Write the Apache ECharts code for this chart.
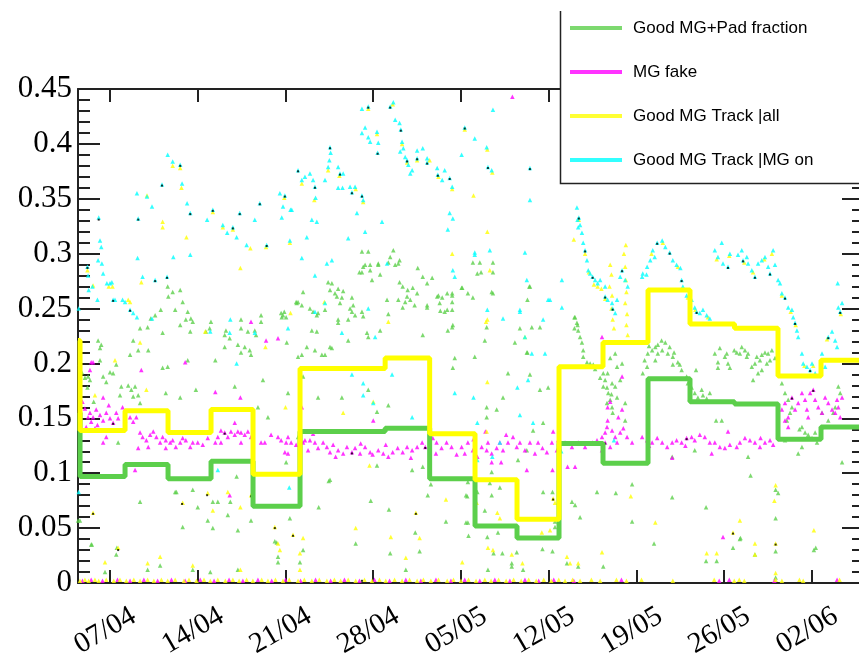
<!DOCTYPE html>
<html><head><meta charset="utf-8">
<script src="https://cdn.jsdelivr.net/npm/echarts@6/dist/echarts.min.js"></script>
<style>html,body{margin:0;padding:0;background:#fff}#c{width:859px;height:661px}</style>
</head><body><div id="c"></div><script>
// x values are days counted from 07/04 00:00
const weekTickDays = [0, 7, 14, 21, 28, 35, 42, 49, 56];
const weekTickLabels = ['07/04','14/04','21/04','28/04','05/05','12/05','19/05','26/05','02/06'];
const seriesNames = ['Good MG+Pad fraction','MG fake','Good MG Track |all','Good MG Track |MG on'];

// histogram (step) curves
const binEdgesDays = [-2.553,-2.39,1.2,4.63,8.06,11.41,15.16,21.95,25.5,29.12,32.47,35.82,39.33,42.92,46.27,49.82,53.29,56.72,60.15];
const padFractionHist = [0.155,0.097,0.108,0.095,0.111,0.070,0.138,0.141,0.095,0.052,0.041,0.127,0.109,0.186,0.165,0.163,0.131,0.142];
const trackAllHist = [0.221,0.139,0.157,0.137,0.158,0.099,0.1955,0.205,0.136,0.094,0.058,0.197,0.219,0.267,0.236,0.232,0.1885,0.203];

// scattered points [day, value]
const padFractionPts = [
[4.6,0.27],[5.0,0.265],[5.6,0.267],[4.65,0.261],[5.8,0.256],[5.2,0.249],[6.2,0.247],[6.05,0.24],[6.45,0.241],[6.6,0.238],[5.6,0.235],[6.4,0.229],[8.05,0.238],[7.95,0.232],[7.65,0.229],[9.15,0.226],[9.25,0.23],[9.55,0.223],[10.45,0.24],[10.45,0.232],[11.0,0.229],[11.55,0.23],[11.65,0.226],[12.05,0.244],[12.05,0.238],[9.15,0.215],[10.2,0.217],[10.75,0.215],[10.45,0.21],[11.15,0.212],[13.8,0.244],[14.05,0.242],[13.65,0.246],[15.0,0.256],[11.25,0.208],
[2.4,0.232],[3.0,0.233],[3.25,0.241],[3.6,0.244],[4.05,0.249],[4.2,0.228],[2.25,0.212],[3.05,0.212],[1.6,0.208],[1.85,0.221],[0.5,0.199],[0,0.192],[0.25,0.191],[-0.55,0.188],[-0.3,0.183],[-1.75,0.188],[-1.6,0.185],[-2.0,0.187],[-0.95,0.221],[-0.8,0.214],[-0.7,0.217],[0.9,0.179],[1.45,0.18],[1.7,0.176],[2.0,0.179],[1.85,0.17],[2.25,0.171],[0.8,0.171],[0.65,0.128],[2.4,0.164],[-0.8,0.203],[4.2,0.196],[4.6,0.197],[4.45,0.173],[5.6,0.169],[6.85,0.176],[6.2,0.203],[8.4,0.203],[12.2,0.185],[11.8,0.16],[12.6,0.151],[14.2,0.173],[15.4,0.188],[15.0,0.206],[14.85,0.256],[15.0,0.133],[14.05,0.11],[9.95,0.179],[-2.25,0.192],[-1.8,0.178],[-2.4,0.2],[-1.3,0.165],
[-2.55,0.057],[-1.45,0.035],[2.4,0.074],[5.8,0.051],[7.0,0.069],[7.8,0.057],[8.2,0.074],[10.2,0.048],[10.1,0.097],[5.2,0.083],[8.0,0.01],[10.2,0.012],[-0.4,0.01],[4.0,0.016],[3.0,0.012],[0.55,0.032],[13.3,0.037],
[5.3,0.083],[6.6,0.085],[8.6,0.074],[9.6,0.074],[9.4,0.062],[8.2,0.05],[11.25,0.057],[-1.5,0.035],[0.5,0.026],[6.6,0.012],[-2.4,0.057],[13.15,0.038],[13.4,0.024],[13.4,0.019],[15.15,0.019],[15.4,0.03],[14.35,0.059],[16.65,0.069],[17.45,0.093],[20.8,0.075],[22.25,0.067],[19.6,0.036],[22.35,0.027],[24.35,0.046],[24.7,0.029],[25.6,0.09],[25.35,0.08],[26.8,0.056],[28.4,0.08],[28.4,0.055],[23.6,0.012],
[28.5,0.079],[28.55,0.092],[29.3,0.083],[30.3,0.091],[31.1,0.087],[30.45,0.08],[29.9,0.066],[28.55,0.055],[28.6,0.043],[30.1,0.042],[30.95,0.046],[32.45,0.028],[31.3,0.027],[30.6,0.027],[32.05,0.018],[32.05,0.015],[32.95,0.012],[30.15,0.012],[34.55,0.083],[35.3,0.083],[34.5,0.031],[35.3,0.029],[35.5,0.051],[35.5,0.056],[37.1,0.071],[37.5,0.06],[36.45,0.018],[37.35,0.015],[38.85,0.083],[40.35,0.082],[41.65,0.09],[41.65,0.056],[39.35,0.015],[43.4,0.036],[44.85,0.078],[47.55,0.069],[47.55,0.02],[48.4,0.02],[49.7,0.032],[50.25,0.04],[51.45,0.026],[53.1,0.059],[53.1,0.029],[53.1,0.005],[53.3,0.082],[56.15,0.03],[36.85,0.074],[48.35,0.148],[46.75,0.194],[50.3,0.041],[51.1,0.098],[53.1,0.085],[56.3,0.032],[58.4,0.11],
[20.1,0.302],[20.6,0.302],[22.35,0.297],[22.75,0.29],[23.1,0.294],[21.4,0.29],[20.2,0.288],[20.75,0.29],[21.55,0.281],[20.1,0.283],[20.9,0.276],[24.55,0.287],[24.95,0.279],[25.3,0.273],[25.7,0.278],[23.1,0.274],[23.35,0.27],[23.75,0.267],[24.15,0.269],[24.5,0.264],[23.7,0.261],[23.95,0.258],[23.55,0.256],[23.0,0.258],[25.3,0.253],[26.1,0.261],[26.5,0.26],[26.9,0.264],[27.3,0.264],[26.3,0.255],[27.3,0.256],[26.7,0.247],[27.3,0.249],[26.35,0.248],[28.1,0.269],[28.55,0.264],[28.95,0.26],[28.95,0.292],[30.55,0.292],[29.3,0.282],[30.45,0.265],[30.05,0.233],[29.9,0.221],[26.95,0.23],[27.3,0.233],[24.95,0.226],[20.6,0.224],[19.0,0.221],[17.55,0.215],[17.15,0.208],[16.35,0.212],[15.7,0.215],[15.3,0.208],[16.1,0.23],[16.5,0.229],[19.0,0.24],[18.2,0.24],[18.35,0.255],[18.1,0.261],[17.95,0.264],[18.2,0.268],[18.5,0.26],[18.6,0.266],[19.3,0.26],[19.4,0.253],[19.15,0.25],[19.3,0.247],[20.1,0.247],[20.2,0.243],[15.4,0.265],[15.95,0.25],[16.2,0.247],[16.6,0.246],[16.5,0.244],[17.15,0.249],[17.4,0.274],[17.7,0.273],[17.55,0.267],[21.55,0.23],[22.2,0.245],[23.35,0.251],[24.3,0.253],[27.5,0.205],[27.35,0.196],[21.3,0.156],[22.2,0.162],[18.5,0.169],[20.6,0.176],[16.6,0.169],[30.05,0.16],[30.05,0.151],[30.85,0.158],[31.35,0.169],[31.75,0.191],[32.3,0.219],[32.7,0.232],[33.65,0.233],[33.25,0.21],[33.5,0.19],[34.3,0.176],[34.55,0.146],[34.95,0.178],[33.25,0.121],[32.55,0.112],[30.45,0.101],[33.75,0.139],[33.5,0.27],[15.3,0.253],[24.1,0.103],[24.95,0.106],[21.3,0.107],[17.55,0.094],
[22.6,0.303],[22.2,0.292],[23.0,0.291],[21.4,0.291],[20.35,0.29],[19.9,0.283],[20.75,0.285],[29.5,0.292],[29.6,0.283],[30.55,0.283],[33.45,0.27],[30.55,0.264],[33.3,0.258],[34.3,0.233],[33.3,0.21],[37.05,0.242],[37.05,0.232],[37.3,0.235],[13.9,0.247],[13.7,0.242],[14.9,0.255],[14.1,0.219],[16.9,0.208],[17.7,0.214],[18.2,0.237],[19.55,0.244],[22.1,0.258],[20.5,0.228],[25.3,0.251],[26.2,0.262],[27.3,0.262],[26.9,0.249],[27.35,0.235],[29.1,0.206],[28.05,0.269],
[37.1,0.242],[37.25,0.237],[37.35,0.23],[37.5,0.224],[37.65,0.219],[37.75,0.212],[37.75,0.206],[38.05,0.201],[38.3,0.2],[38.55,0.199],[38.85,0.197],[39.35,0.191],[39.5,0.185],[39.35,0.179],[39.65,0.178],[39.75,0.173],[39.9,0.167],[40.05,0.16],[40.1,0.155],[40.3,0.179],[40.45,0.169],[39.65,0.164],[40.45,0.197],[40.85,0.2],[40.3,0.209],[40.7,0.185],[41.1,0.164],[41.1,0.148],[39.9,0.205],[39.7,0.191],[40.05,0.182],[38.7,0.195],[39.1,0.187],[40.0,0.172],
[42.65,0.203],[42.9,0.209],[42.85,0.197],[43.25,0.212],[43.5,0.215],[43.7,0.217],[44.05,0.212],[44.3,0.219],[44.65,0.215],[44.5,0.209],[44.9,0.206],[45.3,0.201],[45.45,0.199],[42.5,0.191],[43.5,0.203],[43.7,0.209],[44.9,0.199],[45.6,0.194],[46.0,0.188],[46.1,0.182],[46.4,0.178],[46.65,0.173],[46.9,0.169],[47.3,0.171],[47.6,0.168],[47.2,0.176],[47.85,0.173],[46.25,0.168],[43.0,0.216],[44.0,0.221],[45.0,0.21],
[48.25,0.209],[48.5,0.201],[48.65,0.214],[49.05,0.206],[49.3,0.2],[49.2,0.209],[50.0,0.21],[50.25,0.209],[50.4,0.215],[50.65,0.212],[50.8,0.206],[50.9,0.209],[48.5,0.196],[49.45,0.196],[51.2,0.197],[51.45,0.2],[51.6,0.206],[51.85,0.203],[52.0,0.208],[52.25,0.21],[52.5,0.209],[52.65,0.203],[51.7,0.191],[51.3,0.185],[52.0,0.194],[52.8,0.212],[53.05,0.205],[49.8,0.212],[52.4,0.2],
[53.6,0.182],[53.85,0.173],[54.1,0.167],[54.4,0.16],[54.25,0.155],[55.2,0.142],[55.45,0.137],[56.0,0.132],[56.25,0.137],[56.4,0.128],[56.8,0.155],[56.8,0.142],[57.85,0.16],[58.25,0.173],[58.1,0.179],[57.7,0.155],[55.2,0.124],[54.9,0.118],[54.0,0.148],[53.85,0.13],[48.8,0.148],[46.65,0.121],[44.85,0.115],[50.9,0.115],[55.0,0.14],[55.7,0.135],[57.3,0.148]
];

const mgFakePts = [
[-2.0,0.159],[-1.6,0.155],[-1.35,0.151],[-1.1,0.158],[-0.8,0.153],[-0.55,0.148],[-0.3,0.155],[0,0.15],[0.25,0.146],[0.5,0.155],[0.65,0.15],[-1.5,0.147],[-1.9,0.142],[-1.0,0.144],[-1.75,0.151],[-1.2,0.141],[-0.55,0.169],[-1.6,0.194],[-1.5,0.201],[-2.4,0.158],[0.9,0.139],[1.2,0.148],[1.6,0.151],[1.85,0.147],[2.1,0.151],[-0.3,0.133],[-0.55,0.128],[-2.2,0.165],[-0.1,0.162],[1.0,0.16],
[2.4,0.137],[2.6,0.133],[2.9,0.13],[3.2,0.135],[3.45,0.138],[3.7,0.133],[4.0,0.128],[4.2,0.133],[4.45,0.13],[4.8,0.128],[5.0,0.13],[5.25,0.124],[5.6,0.128],[5.8,0.132],[6.05,0.13],[6.4,0.124],[6.6,0.128],[7.0,0.128],[7.4,0.126],[7.8,0.132],[8.4,0.128],[8.6,0.133],[8.85,0.139],[9.15,0.137],[9.4,0.133],[9.65,0.138],[9.95,0.135],[10.2,0.138],[10.45,0.137],[10.75,0.135],[11.0,0.138],[11.25,0.133],[9.95,0.146],[8.85,0.128],[10.45,0.128],[4.45,0.123],[2.25,0.123],[3.05,0.124],
[12.05,0.128],[12.35,0.128],[13.4,0.133],[13.65,0.13],[14.05,0.128],[14.2,0.133],[14.45,0.128],[14.85,0.126],[15.55,0.13],[12.85,0.135],[14.2,0.118],[13.95,0.119],
[8.4,0.174],[10.4,0.169],[12.45,0.221],[13.4,0.223],[11.25,0.238],[6.0,0.201],[2.5,0.194],[-1.35,0.201],[2.0,0.103],
[15.4,0.128],[15.95,0.13],[16.35,0.128],[16.6,0.123],[15.8,0.121],[17.0,0.128],[17.3,0.124],[17.55,0.119],[17.8,0.126],[18.2,0.121],[18.6,0.118],[18.9,0.124],[19.3,0.119],[19.55,0.123],[19.95,0.118],[20.35,0.124],[20.75,0.119],[20.95,0.117],[21.4,0.121],[21.8,0.118],[22.2,0.115],[22.55,0.119],[22.95,0.123],[23.35,0.119],[23.7,0.124],[24.1,0.121],[24.5,0.124],[24.9,0.128],[25.15,0.124],[25.75,0.132],[26.05,0.128],[26.45,0.123],[26.85,0.128],[27.25,0.124],[27.65,0.117],[28.05,0.124],[28.3,0.118],[28.55,0.128],[28.95,0.121],[29.3,0.115],[29.65,0.124],[30.05,0.121],[30.15,0.128],[30.45,0.118],[30.85,0.123],[31.1,0.128],[31.35,0.121],[31.75,0.128],[32.15,0.133],[32.45,0.124],[32.7,0.128],[33.1,0.121],[33.5,0.128],[33.9,0.118],[34.15,0.128],[34.5,0.123],[34.85,0.119],[35.25,0.128],[35.65,0.121],[16.2,0.136],[18.0,0.115],[20.0,0.127],[22.0,0.126],[24.0,0.114],[26.0,0.118],[29.0,0.131],
[15.3,0.16],[21.0,0.148],[33.25,0.103],[31.2,0.11],[35.35,0.138],[35.3,0.103],[31.6,0.135],[29.95,0.138],[30.45,0.11],[32.1,0.443],[9.55,0.08],[48.9,0.042],
[35.75,0.13],[36.3,0.128],[36.85,0.124],[37.35,0.128],[37.9,0.124],[38.5,0.128],[38.85,0.13],[39.25,0.133],[39.5,0.137],[39.65,0.142],[39.7,0.148],[40.05,0.139],[40.3,0.133],[40.45,0.128],[40.7,0.137],[40.95,0.141],[41.25,0.133],[41.65,0.128],[39.5,0.128],[39.9,0.124],[39.25,0.121],[36.5,0.106],[37.1,0.106],[40.85,0.158],[40.55,0.151],[39.7,0.16],[39.9,0.165],[39.25,0.224],[40.85,0.188],
[42.45,0.133],[42.85,0.13],[43.25,0.128],[43.65,0.132],[44.05,0.128],[44.45,0.124],[44.85,0.128],[45.2,0.13],[45.6,0.128],[46.0,0.132],[46.4,0.133],[46.65,0.13],[47.05,0.135],[47.45,0.133],[47.85,0.128],[48.25,0.128],[48.65,0.124],[49.05,0.123],[49.45,0.126],[50.25,0.128],[50.65,0.132],[51.05,0.13],[51.45,0.128],[51.85,0.124],[52.25,0.128],[52.65,0.13],[52.9,0.126],[44.85,0.114],[48.0,0.118],[49.3,0.138],[43.0,0.125],[45.9,0.125],[50.0,0.124],[51.9,0.132],
[53.6,0.158],[53.85,0.164],[54.1,0.151],[54.4,0.169],[54.65,0.158],[54.9,0.164],[55.2,0.173],[55.45,0.167],[55.6,0.158],[55.85,0.173],[56.1,0.176],[56.25,0.167],[56.5,0.16],[56.8,0.155],[57.05,0.169],[57.3,0.164],[57.6,0.158],[57.85,0.155],[58.1,0.16],[58.25,0.151],[58.0,0.167],[58.4,0.169],[54.1,0.142],[53.85,0.148],[55.7,0.151],
[-2.2,0.002],[-1.5,0.003],[-0.6,0.002],[0.6,0.003],[1.6,0.002],[2.7,0.003],[3.8,0.002],[4.9,0.003],[6.0,0.002],[7.2,0.003],[8.3,0.002],[9.5,0.003],[10.6,0.002],[11.8,0.003],[12.9,0.002],[14.0,0.003],[15.2,0.002],[16.4,0.003],[17.6,0.002],[18.7,0.003],[19.9,0.002],[21.1,0.003],[22.3,0.002],[23.6,0.003],[24.8,0.002],[26.0,0.003],[27.2,0.002],[28.3,0.003],[29.5,0.002],[30.7,0.003],[31.9,0.002],[33.1,0.003],[34.2,0.002],[35.4,0.003],[37.0,0.002],[40.8,0.003],[48.6,0.002],[49.4,0.003],[53.0,0.002],[58.0,0.003]
];

const trackAllPts = [
[2.95,0.353],[4.2,0.329],[4.2,0.324],[6.1,0.315],[10.4,0.287],[1.45,0.258],[8.2,0.338],[11.2,0.305],[-0.1,0.27],[5.0,0.38],[5.6,0.378],[9.0,0.324],[9.8,0.322],[12.45,0.306],[14.35,0.31],[13.9,0.351],[15.3,0.364],[17.4,0.376],[18.3,0.371],[19.6,0.359],[20.2,0.347],[20.6,0.432],[21.3,0.409],[22.55,0.436],[23.3,0.4],[23.7,0.383],[24.5,0.385],[25.5,0.385],[26.2,0.37],[27.3,0.359],[28.3,0.413],[30.1,0.395],[30.5,0.374],[29.0,0.353],[30.1,0.32],[27.3,0.3],[30.3,0.285],[30.1,0.24],[22.2,0.238],[17.1,0.256],[21.0,0.165],[30.0,0.238],[30.1,0.183],[33.1,0.224],[30.05,0.138],[18.6,0.155],[20.7,0.107],[2.5,0.274],[1.6,0.256],[2.4,0.219],[0.4,0.203],[7.6,0.229],[12.4,0.215],[14.4,0.246],[2.9,0.176],[14.0,0.16],[-1.2,0.171],[-1.35,0.271],[-1.8,0.285],[0.2,0.27],[5.7,0.36],[16.3,0.349],
[37.4,0.331],[37.9,0.3],[38.2,0.283],[38.9,0.27],[39.5,0.259],[39.9,0.29],[40.0,0.281],[39.85,0.27],[40.05,0.262],[40.0,0.25],[40.1,0.24],[40.2,0.232],[41.0,0.3],[41.1,0.288],[41.15,0.276],[41.2,0.265],[41.1,0.255],[41.25,0.245],[41.2,0.235],[41.3,0.226],[41.15,0.308],[43.2,0.3],[44.1,0.31],[45.3,0.288],[46.1,0.26],[46.7,0.249],[47.7,0.242],[48.4,0.295],[49.4,0.298],[50.6,0.292],[51.3,0.283],[52.2,0.295],[52.8,0.3],[53.6,0.262],[54.3,0.247],[54.7,0.235],[55.4,0.198],[56.1,0.198],[57.2,0.222],[58.3,0.245],[38.6,0.272],[39.2,0.268],[37.0,0.313],
[7.8,0.082],[5.8,0.073],[9.4,0.083],[11.25,0.08],[8.2,0.066],[10.4,0.069],[-1.35,0.064],[0.65,0.032],[-0.4,0.019],[3.0,0.018],[4.0,0.024],[6.6,0.016],[13.15,0.051],[13.4,0.036],[13.55,0.03],[14.6,0.044],[15.4,0.041],[15.15,0.027],[15.15,0.012],[19.6,0.05],[22.4,0.042],[24.4,0.064],[24.7,0.041],[26.8,0.076],[23.6,0.023],[28.1,0.019],[10.4,0.012],[29.25,0.073],[30.9,0.064],[31.1,0.059],[30.15,0.032],[30.55,0.03],[32.05,0.026],[32.9,0.018],[34.45,0.046],[35.1,0.048],[35.35,0.077],[35.5,0.073],[36.45,0.024],[36.7,0.018],[37.35,0.018],[39.25,0.028],[41.55,0.079],[43.5,0.055],[47.6,0.027],[48.4,0.027],[49.7,0.046],[50.25,0.057],[51.45,0.036],[51.45,0.026],[53.1,0.036],[53.1,0.009],[53.1,0.089],[56.15,0.048],[53.0,0.075],
[-2.4,0.002],[-2.0,0.003],[-1.7,0.002],[-1.2,0.003],[-0.9,0.002],[-0.3,0.003],[0.3,0.002],[0.8,0.003],[1.3,0.002],[1.9,0.003],[2.4,0.002],[3.0,0.003],[3.5,0.002],[4.1,0.003],[4.6,0.002],[5.2,0.003],[5.9,0.002],[6.3,0.003],[6.9,0.002],[7.5,0.003],[8.0,0.002],[8.6,0.003],[9.2,0.002],[9.8,0.003],[10.3,0.002],[10.9,0.003],[11.4,0.002],[12.1,0.003],[12.6,0.002],[13.2,0.003],[13.8,0.002],[14.3,0.003],[15.0,0.002],[15.5,0.003],[16.1,0.002],[16.7,0.003],[17.3,0.002],[17.9,0.003],[18.4,0.002],[19.0,0.003],[19.6,0.002],[20.3,0.003],[20.9,0.002],[21.5,0.003],[22.0,0.002],[22.7,0.003],[23.3,0.002],[23.9,0.003],[24.5,0.002],[25.0,0.003],[25.6,0.002],[26.2,0.003],[26.9,0.002],[27.4,0.003],[28.0,0.002],[28.6,0.003],[29.2,0.002],[29.9,0.003],[30.4,0.002],[31.0,0.003],[31.6,0.002],[32.2,0.003],[32.8,0.002],[33.4,0.003],[34.0,0.002],[34.6,0.003],[35.2,0.002],[35.8,0.003],[36.3,0.002],[36.9,0.003],[37.5,0.002],[38.4,0.003],[39.1,0.002],[40.4,0.003],[41.2,0.002],[42.4,0.003],[44.9,0.002],[48.2,0.003],[49.8,0.002],[50.2,0.003],[50.6,0.002],[53.1,0.003],[53.6,0.002],[55.0,0.003],[55.3,0.002],[58.2,0.003]
];

const trackMgOnPts = [
[-2.5,0.25],[-1.8,0.288],[-1.75,0.28],[-1.7,0.267],[-1.4,0.27],[-1.0,0.258],[-0.95,0.294],[-0.9,0.333],[-0.8,0.312],[-0.7,0.306],[-0.65,0.291],[-0.55,0.282],[-0.25,0.273],[0,0.273],[0.15,0.274],[0.25,0.258],[0.4,0.258],[1.0,0.258],[1.2,0.256],[1.6,0.249],[1.85,0.246],[2.15,0.242],[2.2,0.296],[2.25,0.332],[2.6,0.279],[2.95,0.352],[2.15,0.355],[3.35,0.343],[3.35,0.241],[3.6,0.276],[4.15,0.363],[4.55,0.279],[4.6,0.39],[5.0,0.384],[5.05,0.297],[5.6,0.381],[5.75,0.364],[6.15,0.346],[6.4,0.337],[6.4,0.299],[7.75,0.331],[8.0,0.229],[8.2,0.34],[9.0,0.326],[9.35,0.319],[9.55,0.228],[9.6,0.24],[9.8,0.324],[10.1,0.315],[10.1,0.2],[10.35,0.337],[10.9,0.308],[11.55,0.331],[11.55,0.228],[11.95,0.346],[12.5,0.308],[13.55,0.355],[13.95,0.353],[14.35,0.312],[14.5,0.34],[15.0,0.376],
[13.7,0.333],[13.8,0.343],[14.4,0.34],[15.3,0.367],[15.55,0.37],[15.95,0.373],[16.2,0.367],[16.35,0.361],[16.4,0.351],[17.15,0.367],[17.55,0.397],[17.6,0.392],[17.5,0.385],[17.4,0.379],[18.2,0.379],[18.35,0.373],[18.6,0.373],[18.2,0.36],[18.55,0.36],[19.15,0.361],[19.3,0.356],[19.55,0.361],[20.1,0.353],[20.2,0.349],[19.7,0.337],[20.35,0.32],[21.7,0.329],[19.0,0.314],[16.1,0.331],[16.5,0.329],[15.7,0.315],[15.3,0.296],[17.3,0.291],[17.7,0.294],[16.35,0.28],[14.2,0.232],[22.1,0.291],[20.6,0.25],[21.15,0.224],[18.5,0.228],[17.15,0.255],[16.35,0.247],
[20.1,0.432],[20.6,0.434],[22.35,0.434],[22.6,0.438],[20.1,0.41],[20.35,0.415],[20.6,0.406],[20.75,0.402],[21.3,0.411],[21.4,0.401],[21.35,0.392],[22.75,0.422],[23.1,0.419],[23.2,0.413],[23.3,0.402],[23.15,0.393],[23.4,0.396],[23.55,0.388],[23.7,0.385],[23.8,0.381],[23.95,0.373],[24.1,0.376],[24.5,0.394],[24.5,0.387],[24.95,0.396],[25.3,0.387],[25.3,0.383],[26.1,0.378],[26.15,0.372],[26.5,0.367],[26.7,0.376],[27.1,0.369],[27.3,0.361],[27.1,0.337],[27.35,0.332],[26.95,0.322],[28.05,0.39],[28.3,0.415],[29.1,0.405],[29.1,0.301],[30.05,0.397],[30.15,0.379],[30.45,0.376],[30.55,0.431],[33.5,0.378],[33.5,0.349],[33.1,0.301],[31.35,0.241],[32.7,0.249],[34.55,0.24],[34.95,0.258],[36.05,0.276],[33.25,0.276],[33.1,0.224],[33.65,0.209],[34.7,0.209],[27.35,0.285],[27.5,0.279],[29.1,0.299],[30.3,0.303],[37.25,0.342],[37.3,0.331],[37.35,0.324],
[37.4,0.333],[37.5,0.326],[37.65,0.319],[37.75,0.31],[37.9,0.303],[38.05,0.294],[38.15,0.285],[38.3,0.282],[38.5,0.279],[38.7,0.276],[38.9,0.273],[39.1,0.276],[39.5,0.27],[39.5,0.261],[39.7,0.258],[40.05,0.255],[40.1,0.25],[40.3,0.246],[40.45,0.258],[40.85,0.285],[40.7,0.279],[41.1,0.276],[41.3,0.27],[36.05,0.251],
[42.45,0.279],[42.5,0.282],[42.85,0.288],[43.1,0.294],[43.3,0.303],[43.65,0.31],[44.05,0.312],[44.3,0.306],[44.65,0.301],[44.9,0.294],[45.2,0.29],[45.5,0.287],[45.6,0.276],[45.7,0.27],[46.0,0.262],[46.4,0.258],[46.65,0.251],[46.8,0.247],[47.05,0.246],[47.3,0.249],[47.6,0.244],[47.85,0.241],[43.45,0.297],[42.8,0.281],
[48.25,0.303],[48.5,0.297],[48.8,0.31],[48.9,0.291],[49.3,0.288],[49.45,0.3],[50.1,0.299],[50.4,0.303],[50.5,0.294],[50.8,0.297],[50.9,0.291],[51.2,0.285],[51.45,0.279],[51.7,0.291],[52.0,0.294],[52.25,0.297],[52.5,0.288],[52.65,0.282],[52.9,0.303],[53.05,0.29],[53.3,0.276],[53.45,0.273],[53.6,0.264],[53.85,0.26],[54.1,0.251],[54.4,0.249],[54.5,0.242],[54.65,0.237],[54.8,0.23],[54.9,0.224],[55.2,0.209],[55.3,0.2],[55.6,0.197],[55.85,0.194],[56.0,0.2],[56.25,0.191],[56.8,0.209],[57.05,0.197],[57.3,0.224],[57.6,0.229],[57.85,0.221],[58.0,0.215],[58.1,0.251],[58.25,0.247],[58.4,0.255],[58.05,0.273],
[19.3,0.19],[20.2,0.182],[20.2,0.171],[21.0,0.164],[24.1,0.151],[22.5,0.19],[27.5,0.173],[29.0,0.169],[29.3,0.146],[30.1,0.249],[32.7,0.247],[32.5,0.178],[33.35,0.185],[33.75,0.146],[32.7,0.153],[35.1,0.258],[31.1,0.128],[30.5,0.115],[29.3,0.112],
[-2.5,0.083],[8.6,0.103],[14.3,0.087],[36.0,0.12],[40.2,0.13]
];

const blackDotPts = [
[-1.8,0.287],[-0.9,0.331],[0.25,0.257],[2.25,0.331],[4.15,0.362],[5.6,0.38],[6.4,0.336],[8.2,0.339],[9.8,0.323],[10.35,0.336],[11.95,0.345],[13.95,0.352],[15.0,0.375],[16.35,0.36],[17.55,0.396],[18.35,0.372],[19.3,0.355],[20.1,0.352],[20.6,0.433],[21.35,0.391],[22.35,0.433],[23.2,0.412],[23.7,0.384],[24.5,0.386],[25.3,0.382],[26.15,0.371],[27.1,0.368],[28.3,0.414],[30.15,0.378],[33.5,0.377],[37.4,0.332],[37.9,0.302],[38.5,0.278],[39.5,0.26],[40.1,0.249],[40.85,0.284],[43.65,0.309],[44.65,0.3],[45.6,0.275],[46.8,0.246],[49.3,0.287],[50.5,0.293],[51.45,0.278],[52.65,0.281],[53.85,0.259],[54.65,0.236],[55.85,0.193],[57.3,0.223],[58.25,0.246],[12.5,0.307],[4.55,0.278],[1.6,0.248],[3.6,0.275],
[7.75,0.08],[5.75,0.072],[11.25,0.079],[0.65,0.03],[13.15,0.05],[14.6,0.043],[24.4,0.063],[35.35,0.076],[53.1,0.035],[-1.35,0.063],[20.1,0.002],[49.7,0.045],
[0.25,0.145],[9.15,0.136],[19.3,0.118],[25.15,0.123],[39.5,0.127],[46.0,0.131],[54.4,0.168],[56.1,0.175]
];

const colors = { pad: '#5ccf4b', fake: '#ff00ff', all: '#ffff00', mgon: '#00ffff' };

function histData(edges, vals) {
  const d = vals.map((v, i) => [edges[i], v]);
  d.push([edges[edges.length - 1], vals[vals.length - 1]]);
  return d;
}

const chart = echarts.init(document.getElementById('c'), null, { renderer: 'canvas' });
const axisCol = '#222';
const xMin = binEdgesDays[0], xMax = binEdgesDays[binEdgesDays.length - 1];
const pt = (name, data, color, size, sym) => ({
  name, type: 'scatter', data, symbol: sym || 'triangle', symbolSize: size,
  itemStyle: { color }, silent: true, clip: true
});

chart.setOption({
  animation: false,
  backgroundColor: '#fff',
  grid: { left: 78, top: 89, width: 786, height: 494, containLabel: false, outerBoundsMode: 'none' },
  xAxis: [
    { type: 'value', min: xMin, max: xMax, position: 'bottom',
      axisLine: { show: true, onZero: false, lineStyle: { color: axisCol, width: 2 } },
      axisTick: { show: true, inside: true, length: 13, customValues: weekTickDays, lineStyle: { color: axisCol, width: 2 } },
      axisLabel: { show: true, customValues: weekTickDays, rotate: 30, align: 'center', verticalAlign: 'middle',
        margin: 45, padding: [0, 11, 0, 0], fontFamily: 'Liberation Serif', fontSize: 29, color: '#000',
        formatter: v => weekTickLabels[weekTickDays.indexOf(Math.round(v))] || '' },
      splitLine: { show: false } },
    { type: 'value', min: xMin, max: xMax, position: 'top',
      axisLine: { show: true, onZero: false, lineStyle: { color: axisCol, width: 2 } },
      axisTick: { show: true, inside: true, length: 13, customValues: weekTickDays, lineStyle: { color: axisCol, width: 2 } },
      axisLabel: { show: false }, splitLine: { show: false } }
  ],
  yAxis: [
    { type: 'value', min: 0, max: 0.45, interval: 0.05, position: 'left',
      axisLine: { show: true, onZero: false, lineStyle: { color: axisCol, width: 2 } },
      axisTick: { show: true, inside: true, length: 22, lineStyle: { color: axisCol, width: 2 } },
      minorTick: { show: true, splitNumber: 5, length: 12, lineStyle: { color: axisCol, width: 2 } },
      axisLabel: { margin: 6, fontFamily: 'Liberation Serif', fontSize: 31, color: '#000' },
      splitLine: { show: false }, minorSplitLine: { show: false } },
    { type: 'value', min: 0, max: 0.45, interval: 0.05, position: 'right',
      axisLine: { show: true, onZero: false, lineStyle: { color: axisCol, width: 2 } },
      axisTick: { show: true, inside: true, length: 22, lineStyle: { color: axisCol, width: 2 } },
      minorTick: { show: true, splitNumber: 5, length: 12, lineStyle: { color: axisCol, width: 2 } },
      axisLabel: { show: false }, splitLine: { show: false }, minorSplitLine: { show: false } }
  ],
  legend: {
    orient: 'vertical', left: 570, top: 18, padding: 0, itemWidth: 52, itemHeight: 4, itemGap: 24,
    icon: 'rect', selectedMode: false, z: 10,
    textStyle: { fontFamily: 'Liberation Sans', fontSize: 17, color: '#000', lineHeight: 20, padding: [0, 0, 0, 6] },
    data: seriesNames
  },
  graphic: [
    { type: 'rect', left: 560, top: 11, shape: { width: 320, height: 172 }, style: { fill: '#fff' }, z: 5, silent: true },
    { type: 'polyline', shape: { points: [[560.5, 11], [560.5, 183.5], [880, 183.5]] }, style: { stroke: '#222', lineWidth: 1.5, fill: null }, z: 6, silent: true }
  ],
  series: [
    pt(seriesNames[0], padFractionPts, colors.pad, 4.5),
    pt(seriesNames[1], mgFakePts, colors.fake, 4.5),
    pt(seriesNames[2], trackAllPts, colors.all, 4.5),
    pt(seriesNames[3], trackMgOnPts, colors.mgon, 4.5),
    { name: 'dots', type: 'scatter', data: blackDotPts, symbol: 'rect', symbolSize: 2, itemStyle: { color: '#000' }, silent: true },
    { name: seriesNames[0], type: 'line', step: 'end', data: histData(binEdgesDays, padFractionHist), showSymbol: false, symbol: 'none',
      lineStyle: { color: colors.pad, width: 5 }, itemStyle: { color: colors.pad }, silent: true, z: 3 },
    { name: seriesNames[2], type: 'line', step: 'end', data: histData(binEdgesDays, trackAllHist), showSymbol: false, symbol: 'none',
      lineStyle: { color: colors.all, width: 5 }, itemStyle: { color: colors.all }, silent: true, z: 3 }
  ]
});
</script></body></html>
